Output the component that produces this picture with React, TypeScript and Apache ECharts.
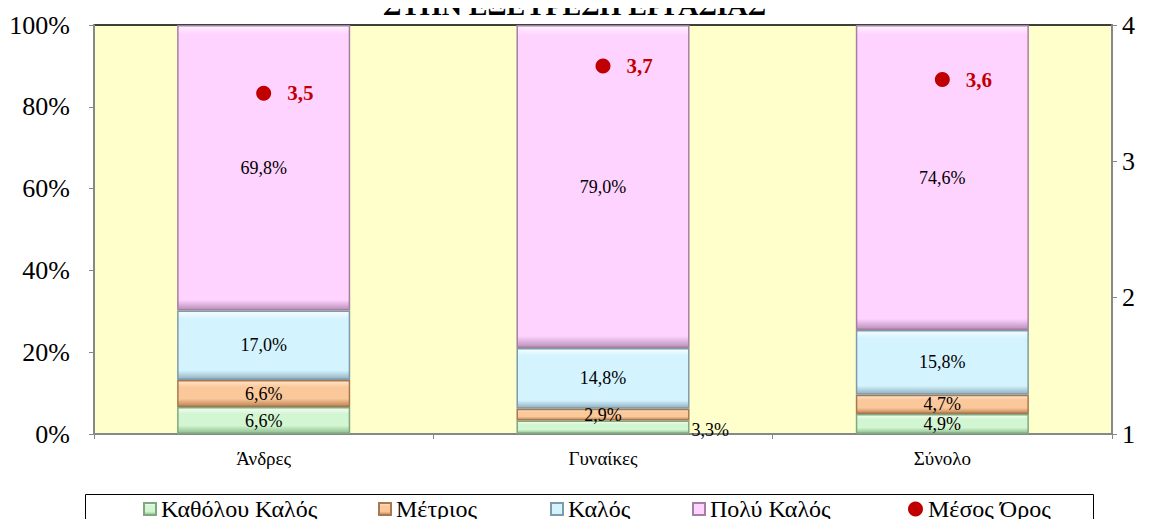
import React, { useEffect, useRef } from "react";
import * as echarts from "echarts";

const categories = ["Άνδρες", "Γυναίκες", "Σύνολο"];
const katholouKalos = [6.6, 3.3, 4.9];
const metrios = [6.6, 2.9, 4.7];
const kalos = [17.0, 14.8, 15.8];
const polyKalos = [69.8, 79.0, 74.6];
const mesosOros = [3.5, 3.7, 3.6];
const leftTicks = [0, 20, 40, 60, 80, 100];
const rightTicks = [1, 2, 3, 4];

const FONT = "'Times New Roman', 'Liberation Serif', serif";

const fmtPct = (v: number) => v.toFixed(1).replace(".", ",") + "%";

function grad(light: string, main: string, dark: string, a: number, b: number) {
  return new echarts.graphic.LinearGradient(0, 0, 0, 1, [
    { offset: 0, color: light },
    { offset: a, color: main },
    { offset: b, color: main },
    { offset: 1, color: dark },
  ]);
}

export default function App() {
  const ref = useRef<HTMLDivElement>(null);
  useEffect(() => {
    if (!ref.current) return;
    const chart = echarts.init(ref.current, undefined, { renderer: "svg" });

    const barLabel = {
      show: true,
      position: "inside" as const,
      color: "#000",
      fontFamily: FONT,
      fontSize: 18,
      formatter: (p: any) => fmtPct(p.value),
    };

    const mkBar = (
      name: string,
      data: any[],
      main: string,
      light: string,
      dark: string,
      border: string,
      a: number,
      b: number
    ) => ({
      name,
      type: "bar",
      stack: "total",
      barWidth: "51%",
      data,
      itemStyle: {
        color: grad(light, main, dark, a, b),
        borderColor: border,
        borderWidth: 1.5,
      },
      label: barLabel,
    });

    const legendBase = {
      top: 497,
      itemWidth: 12,
      itemHeight: 12,
      itemGap: 4,
      padding: 0,
      textStyle: { fontFamily: FONT, fontSize: 24, color: "#000" },
    };

    const option: any = {
      animation: false,
      backgroundColor: "#fff",
      grid: {
        left: 94,
        right: 37,
        top: 25,
        bottom: 93,
        show: true,
        backgroundColor: "#FFFFCC",
        borderColor: "#000",
        borderWidth: 1.5,
      },
      graphic: [
        {
          type: "text",
          left: "center",
          top: -9,
          style: {
            text: "ΣΤΗΝ ΕΞΕΥΡΕΣΗ ΕΡΓΑΣΙΑΣ",
            fontFamily: FONT,
            fontWeight: "bold",
            fontSize: 28,
            fill: "#000",
          },
        },
        {
          type: "rect",
          shape: { x: 85.5, y: 494.5, width: 1008, height: 60 },
          style: { fill: "none", stroke: "#000", lineWidth: 1 },
          z: 10,
        },
      ],
      legend: [
        { ...legendBase, left: 143, data: [{ name: "Καθόλου Καλός", icon: "rect" }] },
        { ...legendBase, left: 378, data: [{ name: "Μέτριος", icon: "rect" }] },
        { ...legendBase, left: 550, data: [{ name: "Καλός", icon: "rect" }] },
        { ...legendBase, left: 692, data: [{ name: "Πολύ Καλός", icon: "rect" }] },
        { ...legendBase, left: 908, itemWidth: 15, itemHeight: 15, data: [{ name: "Μέσος Όρος", icon: "circle" }] },
      ],
      xAxis: {
        type: "category",
        data: categories,
        axisLine: { show: true, lineStyle: { color: "#888", width: 2 } },
        axisTick: { show: true, length: 5, lineStyle: { color: "#888" } },
        axisLabel: { fontFamily: FONT, fontSize: 19, color: "#000", margin: 15 },
      },
      yAxis: [
        {
          type: "value",
          min: leftTicks[0],
          max: leftTicks[leftTicks.length - 1],
          interval: 20,
          axisLine: { show: true, lineStyle: { color: "#888", width: 2 } },
          axisTick: { show: true, length: 5, lineStyle: { color: "#888" } },
          splitLine: { show: false },
          axisLabel: { fontFamily: FONT, fontSize: 26, color: "#000", margin: 24, formatter: "{value}%" },
        },
        {
          type: "value",
          min: rightTicks[0],
          max: rightTicks[rightTicks.length - 1],
          interval: 1,
          position: "right",
          axisLine: { show: true, lineStyle: { color: "#888", width: 2 } },
          axisTick: { show: true, length: 5, lineStyle: { color: "#888" } },
          splitLine: { show: false },
          axisLabel: { fontFamily: FONT, fontSize: 26, color: "#000", margin: 10 },
        },
      ],
      series: [
        mkBar(
          "Καθόλου Καλός",
          katholouKalos.map((v, i) =>
            i === 1 ? { value: v, label: { position: "right", distance: 2, offset: [0, 3] } } : v
          ),
          "#D2F5D2",
          "#F4FFF4",
          "#8DBE8D",
          "#7FA87F",
          0.25,
          0.7
        ),
        mkBar("Μέτριος", metrios, "#FAC89A", "#FFE6CC", "#C08555", "#A87850", 0.25, 0.7),
        mkBar("Καλός", kalos, "#D3F3FF", "#F6FDFF", "#92AFBD", "#7F9AA8", 0.12, 0.87),
        mkBar("Πολύ Καλός", polyKalos, "#FFD3FF", "#FFF2FF", "#B98FB9", "#A47FA4", 0.03, 0.965),
        {
          name: "Μέσος Όρος",
          type: "scatter",
          yAxisIndex: 1,
          data: mesosOros,
          symbol: "circle",
          symbolSize: 15,
          itemStyle: { color: "#C00000", opacity: 1 },
          label: {
            show: true,
            position: "right",
            distance: 16,
            color: "#C00000",
            fontFamily: FONT,
            fontWeight: "bold",
            fontSize: 21,
            formatter: (p: any) => String(p.value).replace(".", ","),
          },
          z: 5,
        },
      ],
    };

    chart.setOption(option);
    return () => chart.dispose();
  }, []);

  return <div ref={ref} style={{ width: 1149, height: 527, margin: -8 }} />;
}
